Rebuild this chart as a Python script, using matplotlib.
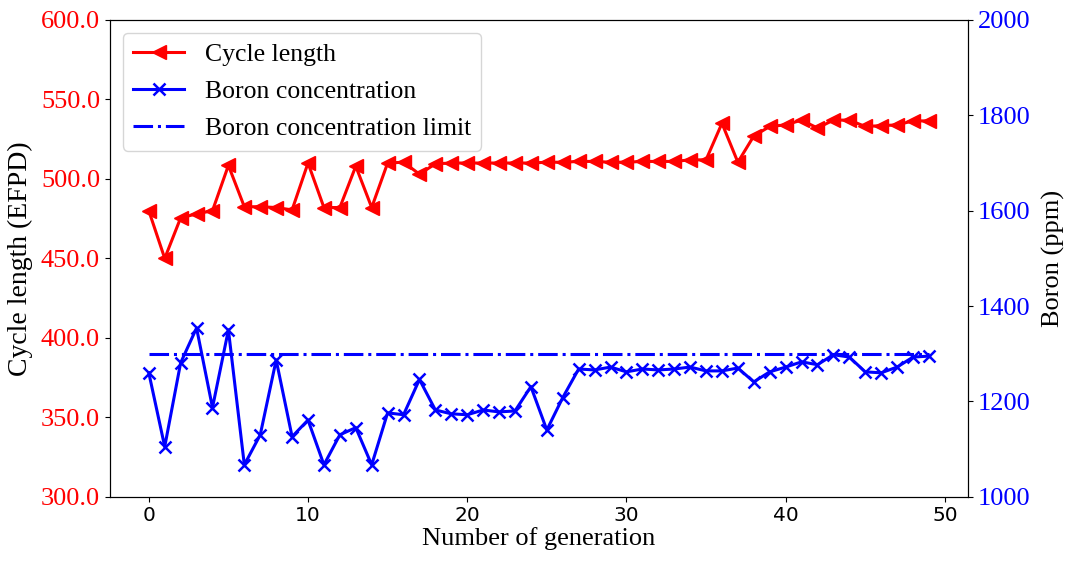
import matplotlib
matplotlib.use("Agg")
import matplotlib.pyplot as plt
import numpy as np

generation = list(range(50))
cycle_length = [480, 450, 475.5, 478, 480, 508.5, 482.5, 482.5, 482, 480.5,
                510, 482, 482, 508, 482, 510, 510.5, 503, 509.5, 510,
                510, 510, 510, 510, 510, 510.5, 510.5, 511, 511, 510.5,
                510.5, 511, 511, 511, 512, 512, 535, 510.5, 527, 533,
                534, 537, 532, 537, 537, 533, 533.5, 534, 536.5, 536.5]
boron = [1260, 1105, 1281, 1354, 1187, 1350, 1067, 1130, 1287, 1126,
         1161, 1067, 1130, 1145, 1067, 1176, 1172, 1246, 1182, 1174,
         1172, 1182, 1178, 1180, 1231, 1140, 1208, 1268, 1266, 1272,
         1262, 1268, 1266, 1268, 1272, 1264, 1264, 1270, 1241, 1262,
         1272, 1283, 1277, 1298, 1293, 1262, 1260, 1272, 1293, 1295]
boron_limit = [1300] * 50

serif = ["Liberation Serif", "DejaVu Serif"]

fig = plt.figure(figsize=(10.66, 5.71), dpi=100)
ax = fig.add_axes([0.103, 0.130, 0.805, 0.835])
ax2 = ax.twinx()

l1, = ax.plot(generation, cycle_length, color="#ff0000", marker="<", markersize=10,
              linewidth=2.2, label="Cycle length")
l2, = ax2.plot(generation, boron, color="#0000ff", marker="x", markersize=9,
               markeredgewidth=1.8, linewidth=2.2, label="Boron concentration")
l3, = ax2.plot(generation, boron_limit, color="#0000ff", linestyle="-.",
               linewidth=2.2, label="Boron concentration limit")

ax.set_ylim(300, 600)
ax2.set_ylim(1000, 2000)
ax.set_yticks([300, 350, 400, 450, 500, 550, 600])
ax.set_yticklabels([f"{v:.1f}" for v in [300, 350, 400, 450, 500, 550, 600]],
                   color="#ff0000", fontfamily=serif, fontsize=19)
ax2.set_yticks([1000, 1200, 1400, 1600, 1800, 2000])
ax2.set_yticklabels([str(v) for v in [1000, 1200, 1400, 1600, 1800, 2000]],
                    color="#0000ff", fontfamily=serif, fontsize=19)
ax.set_xticks([0, 10, 20, 30, 40, 50])
ax.tick_params(axis="x", labelsize=14.5)

ax.set_xlabel("Number of generation", fontfamily=serif, fontsize=19, labelpad=1)
ax.set_ylabel("Cycle length (EFPD)", fontfamily=serif, fontsize=20, labelpad=6)
ax2.set_ylabel("Boron (ppm)", fontfamily=serif, fontsize=19, labelpad=8)

ax.legend(handles=[l1, l2, l3], loc="upper left", prop={"family": serif, "size": 18.5},
          framealpha=0.8, borderaxespad=0.5, handlelength=2.0, labelspacing=0.55)

fig.savefig("out.png", dpi=100)
